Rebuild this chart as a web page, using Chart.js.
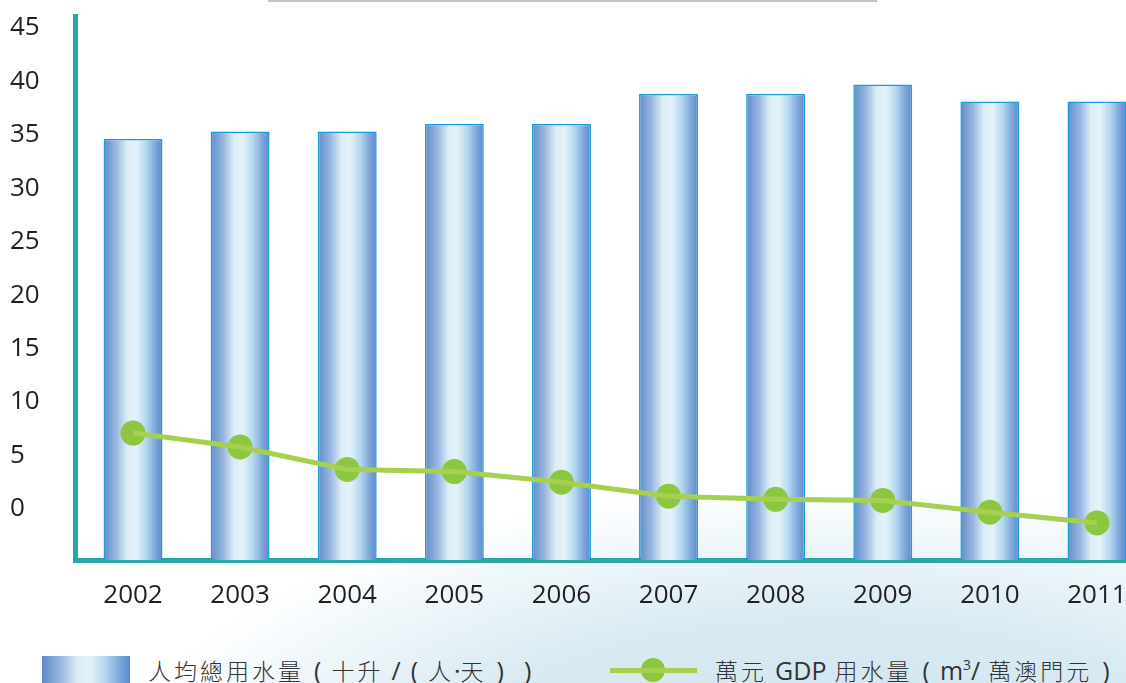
<!DOCTYPE html>
<html>
<head>
<meta charset="utf-8">
<script src="https://cdn.jsdelivr.net/npm/chart.js@4"></script>
<style>
  html, body { margin: 0; padding: 0; }
  body {
    width: 1126px; height: 683px; overflow: hidden; position: relative;
    background:
      radial-gradient(ellipse 720px 300px at 830px 785px, #cfe4ee 0%, #d8eaf2 55%, rgba(228,241,247,0.6) 82%, rgba(255,255,255,0) 100%),
      #ffffff;
    font-family: "Noto Sans CJK TC", "Open Sans", sans-serif;
  }
  #topline { position: absolute; left: 268px; top: 0; width: 609px; height: 2px; background: #c4c4c4; }
  #wrap { position: absolute; left: 0; top: 0; width: 1126px; height: 625px; }
  .legend { position: absolute; color: #333; font-size: 23px; letter-spacing: 3px; line-height: 30px; white-space: nowrap; font-weight: 300; }
  .lat { font-family: "Open Sans", sans-serif; font-size: 25px; letter-spacing: 0; font-weight: 400; }
  .p { margin: 0 10px; }
  #box1 {
    position: absolute; left: 42px; top: 656px; width: 88px; height: 30px;
    background: linear-gradient(to right, #5f8ccb 0%, #9ab8df 22%, #dcedf7 40%, #e4f2f9 55%, #b5d7ef 72%, #80aadc 87%, #5b88c9 100%);
  }
  #line2 { position: absolute; left: 610px; top: 668px; width: 87px; height: 5px; background: #a6d04f; }
  #dot2 { position: absolute; left: 641px; top: 658px; width: 24px; height: 24px; border-radius: 50%; background: #8dc63f; }
  sup { font-size: 14px; vertical-align: 10px; line-height: 0; }
</style>
</head>
<body>
<div id="topline"></div>
<div id="wrap"><canvas id="chart" width="1126" height="625"></canvas></div>
<div id="box1"></div>
<div class="legend" style="left:148px; top:655px;">人均總用水量<span class="lat p">(</span>十升 <span class="lat">/</span><span class="lat p">(</span>人<span class="lat">·</span>天<span class="lat p">)</span><span class="lat p">)</span></div>
<div id="dot2"></div>
<div id="line2"></div>
<div class="legend" style="left:715px; top:655px;">萬元 <span class="lat">GDP</span> 用水量<span class="lat p">(</span><span class="lat">m<sup>3</sup>/</span> 萬澳門元<span class="lat p">)</span></div>
<script>
// values
const years = ['2002', '2003', '2004', '2005', '2006', '2007', '2008', '2009', '2010', '2011'];
const perCapita = [34.6, 35.3, 35.3, 36.0, 36.0, 38.8, 38.8, 39.7, 38.1, 38.1];
const perGDP = [7.1, 5.8, 3.7, 3.5, 2.5, 1.2, 0.9, 0.8, -0.3, -1.3];
const yTicks = [0, 5, 10, 15, 20, 25, 30, 35, 40, 45];

const yMin = -4.77, yMax = 46.1;
const teal = '#2aa6a8';

function barFill(c) {
  const chart = c.chart;
  if (!chart.chartArea) return '#9ab8df';
  const xs = chart.scales.x;
  const half = (xs.getPixelForValue(1) - xs.getPixelForValue(0)) * 0.55 / 2;
  const cx = xs.getPixelForValue(c.dataIndex);
  const g = chart.ctx.createLinearGradient(cx - half, 0, cx + half, 0);
  g.addColorStop(0, '#5f8ccb');
  g.addColorStop(0.22, '#9ab8df');
  g.addColorStop(0.40, '#dcedf7');
  g.addColorStop(0.55, '#e4f2f9');
  g.addColorStop(0.72, '#b5d7ef');
  g.addColorStop(0.87, '#80aadc');
  g.addColorStop(1, '#5b88c9');
  return g;
}

const pts = arr => arr.map((v, i) => ({ x: i, y: v }));

new Chart(document.getElementById('chart'), {
  data: {
    datasets: [
      {
        type: 'line', label: '萬元 GDP 用水量', data: pts(perGDP), order: 0,
        borderColor: '#a6d04f', borderWidth: 5, pointRadius: 0, fill: false, tension: 0
      },
      {
        type: 'line', label: 'points', data: pts(perGDP), order: 1, showLine: false,
        pointRadius: 12.5, pointBackgroundColor: '#8dc63f', pointBorderWidth: 0
      },
      {
        type: 'bar', label: '人均總用水量', data: pts(perCapita), order: 2, base: yMin,
        backgroundColor: barFill, borderColor: '#1b9bdb', borderWidth: { left: 1.5, right: 1.5, top: 1.5, bottom: 0 },
        borderSkipped: 'bottom', categoryPercentage: 1, barPercentage: 0.55
      }
    ]
  },
  options: {
    responsive: false,
    animation: false,
    events: [],
    layout: { autoPadding: false, padding: { top: 16, left: 10, right: 0, bottom: 0 } },
    plugins: { legend: { display: false }, tooltip: { enabled: false } },
    scales: {
      x: {
        type: 'linear', min: -0.5415, max: 9.271, offset: false,
        grid: { drawOnChartArea: false, drawTicks: false, offset: false },
        border: { color: teal, width: 5 },
        ticks: {
          stepSize: 1, includeBounds: false, autoSkip: false, maxRotation: 0, padding: 20,
          color: '#231f20', font: { family: 'Open Sans', size: 26 },
          callback: v => Number.isInteger(v) ? years[v] : null
        },
        afterFit: s => { s.height = 65; s.paddingLeft = 0; s.paddingRight = 0; }
      },
      y: {
        type: 'linear', min: yMin, max: yMax,
        grid: { drawOnChartArea: false, drawTicks: false },
        border: { color: teal, width: 5 },
        afterBuildTicks: s => { s.ticks = yTicks.map(v => ({ value: v })); },
        ticks: {
          crossAlign: 'far', padding: 0,
          color: '#231f20', font: { family: 'Open Sans', size: 26 },
          callback: v => String(v)
        },
        afterFit: s => { s.width = 65; }
      }
    }
  }
});
</script>
</body>
</html>
